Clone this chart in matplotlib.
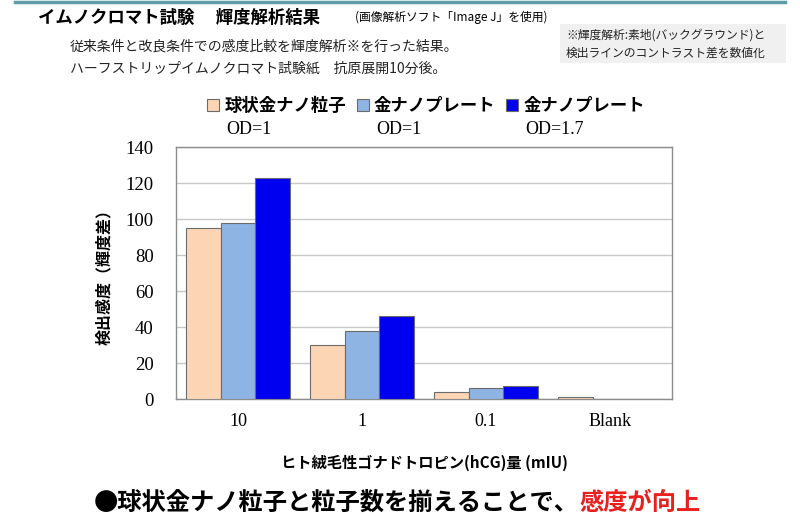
import numpy as np
import matplotlib
matplotlib.use('Agg')
from matplotlib import pyplot as plt
from matplotlib.lines import Line2D
from matplotlib.patches import Rectangle

plt.rcParams['font.family'] = ['Noto Sans CJK JP', 'DejaVu Sans']

# Data
categories = ['10', '1', '0.1', 'Blank']
series_names = ['球状金ナノ粒子', '金ナノプレート', '金ナノプレート']
series_od = ['OD=1', 'OD=1', 'OD=1.7']
sphere_od1 = [95, 30, 4, 1]
plate_od1 = [98, 38, 6, 0]
plate_od17 = [123, 46, 7, 0]
colors = ['#FCD5B5', '#8EB4E3', '#0000F0']

serif = 'Liberation Serif'

fig = plt.figure(figsize=(8, 5.31), dpi=100)

# header line
fig.add_artist(Line2D([15 / 800, 785 / 800], [1 - 1.5 / 531, 1 - 1.5 / 531],
                      color='#5E9CAA', lw=2.5))

fig.text(38 / 800, 1 - 18 / 531, 'イムノクロマト試験　 輝度解析結果',
         fontsize=12.5, fontweight='bold', va='center', ha='left')
fig.text(355 / 800, 1 - 17 / 531, '(画像解析ソフト「Image J」を使用)',
         fontsize=8.5, va='center', ha='left')
fig.text(70 / 800, 1 - 47 / 531, '従来条件と改良条件での感度比較を輝度解析※を行った結果。',
         fontsize=10, va='center', ha='left', color='#222222')
fig.text(70 / 800, 1 - 68 / 531, 'ハーフストリップイムノクロマト試験紙　抗原展開10分後。',
         fontsize=10, va='center', ha='left', color='#222222')

fig.add_artist(Rectangle((560 / 800, 1 - 63 / 531), 226 / 800, 39 / 531,
                         transform=fig.transFigure, facecolor='#F0F0F0',
                         edgecolor='none'))
fig.text(566 / 800, 1 - 35 / 531, '※輝度解析:素地(バックグラウンド)と',
         fontsize=8.5, va='center', ha='left', color='#222222')
fig.text(566 / 800, 1 - 53 / 531, '検出ラインのコントラスト差を数値化',
         fontsize=8.5, va='center', ha='left', color='#222222')

# main chart
ax = fig.add_axes([176 / 800, 1 - 399 / 531, 496 / 800, 252 / 531])
x = np.arange(len(categories))
w = 0.28
all_series = [sphere_od1, plate_od1, plate_od17]
bars = []
for i, vals in enumerate(all_series):
    b = ax.bar(x + (i - 1) * w, vals, width=w, color=colors[i],
               edgecolor='#6b6b6b', linewidth=0.8, label=series_names[i],
               zorder=3)
    bars.append(b)

ax.set_xlim(-0.5, len(categories) - 0.5)
ax.set_ylim(0, 140)
ax.set_yticks(np.arange(0, 141, 20))
ax.set_xticks(x)
ax.set_xticklabels(categories, fontfamily=serif, fontsize=13)
for lab in ax.get_yticklabels():
    lab.set_fontfamily(serif)
    lab.set_fontsize(13.5)
ax.tick_params(axis='both', length=0)
ax.tick_params(axis='y', pad=16)
ax.tick_params(axis='x', pad=10)
ax.grid(axis='y', color='#C8C8C8', lw=1, zorder=0)
for s in ax.spines.values():
    s.set_color('#8C8C8C')
    s.set_linewidth(1)

ax.set_ylabel('検出感度（輝度差）', fontsize=11.5, fontweight='bold', labelpad=10)
ax.set_xlabel('ヒト絨毛性ゴナドトロピン(hCG)量 (mIU)', fontsize=11,
              fontweight='bold', labelpad=18)

leg = fig.legend(handles=[b[0] for b in bars], labels=series_names, ncol=3,
                 loc='center', bbox_to_anchor=(426 / 800, 1 - 106 / 531),
                 frameon=False, prop={'size': 12.5, 'weight': 'bold'},
                 handlelength=0.7, handleheight=0.7, handletextpad=0.3,
                 columnspacing=0.6)

fig.canvas.draw()
for t, od in zip(leg.get_texts(), series_od):
    bb = t.get_window_extent()
    fig.text(bb.x0 / 800 + 2 / 800, 1 - 129 / 531, od, fontfamily=serif,
             fontsize=13, va='center', ha='left')

fig.text(579 / 800, 1 - 503 / 531, '●球状金ナノ粒子と粒子数を揃えることで、',
         fontsize=17.5, fontweight='bold', va='center', ha='right')
fig.text(579 / 800, 1 - 503 / 531, '感度が向上', fontsize=17.5,
         fontweight='bold', va='center', ha='left', color='#E8201E')

fig.savefig('out.png', dpi=100)
